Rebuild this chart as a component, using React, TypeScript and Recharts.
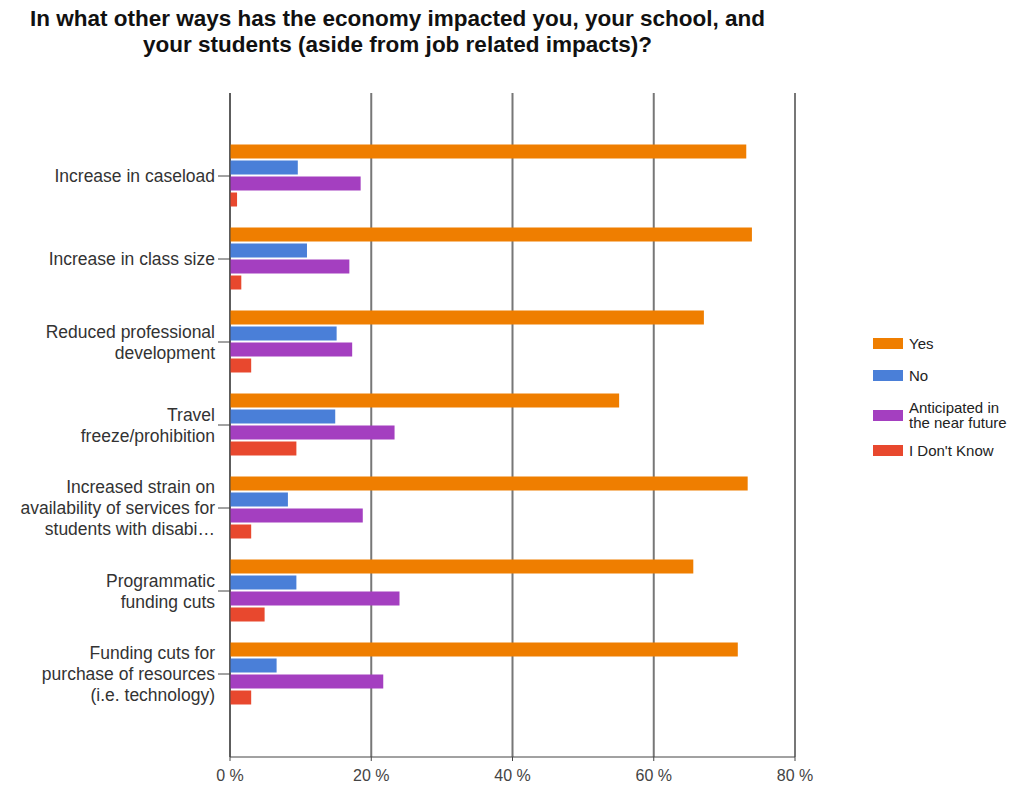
import { BarChart, Bar, XAxis, YAxis, CartesianGrid, Legend } from "recharts";

const categories = [
  "Increase in caseload",
  "Increase in class size",
  "Reduced professional\ndevelopment",
  "Travel\nfreeze/prohibition",
  "Increased strain on\navailability of services for\nstudents with disabi…",
  "Programmatic\nfunding cuts",
  "Funding cuts for\npurchase of resources\n(i.e. technology)",
];

const yes = [73.1, 73.9, 67.1, 55.1, 73.3, 65.6, 71.9];
const no = [9.6, 10.9, 15.1, 14.9, 8.2, 9.4, 6.6];
const anticipated = [18.5, 16.9, 17.3, 23.3, 18.8, 24.0, 21.7];
const dontKnow = [1.0, 1.6, 3.0, 9.4, 3.0, 4.9, 3.0];

const xTicks = [0, 20, 40, 60, 80];

const series = [
  { key: "yes", name: "Yes", color: "#EF7E00" },
  { key: "no", name: "No", color: "#4A7FD8" },
  { key: "anticipated", name: "Anticipated in\nthe near future", color: "#A43FC0" },
  { key: "dontKnow", name: "I Don't Know", color: "#E8482E" },
];

const data = categories.map((category, i) => ({
  category,
  yes: yes[i],
  no: no[i],
  anticipated: anticipated[i],
  dontKnow: dontKnow[i],
}));

const FONT = "'Liberation Sans', Arial, sans-serif";

function CategoryTick(props: any) {
  const { x, y, payload } = props;
  const lines = String(payload.value).split("\n");
  const lh = 21;
  const start = y - ((lines.length - 1) * lh) / 2;
  return (
    <text x={x} y={start} textAnchor="end" fontSize={17.5} fill="#333" fontFamily={FONT}>
      {lines.map((l, i) => (
        <tspan key={i} x={x} y={start + i * lh} dy="0.35em">
          {l}
        </tspan>
      ))}
    </text>
  );
}

function LegendBox() {
  const ys = [0, 32, 64, 107];
  return (
    <div style={{ position: "relative", width: 140, height: 130, fontFamily: FONT, fontSize: 15, color: "#222", textAlign: "left" }}>
      {series.map((s, i) => {
        const lines = s.name.split("\n");
        return (
          <div key={s.key} style={{ position: "absolute", left: 0, top: ys[i], display: "flex", alignItems: "center" }}>
            <div style={{ width: 30, height: 11, background: s.color, marginRight: 6 }} />
            <div style={{ lineHeight: "15px", whiteSpace: "nowrap" }}>
              {lines.map((l, j) => (
                <div key={j}>{l}</div>
              ))}
            </div>
          </div>
        );
      })}
    </div>
  );
}

export default function App() {
  return (
    <div style={{ position: "absolute", left: 0, top: 0, width: 1010, height: 789, background: "#fff" }}>
      <div
        style={{
          position: "absolute",
          left: 0,
          top: 6,
          width: 795,
          textAlign: "center",
          fontFamily: FONT,
          fontWeight: "bold",
          fontSize: 22.5,
          lineHeight: "26px",
          color: "#111",
          zIndex: 2,
        }}
      >
        In what other ways has the economy impacted you, your school, and
        <br />
        your students (aside from job related impacts)?
      </div>
      <BarChart
        width={1010}
        height={789}
        data={data}
        layout="vertical"
        margin={{ top: 93, right: 215, bottom: 0, left: 0 }}
        barCategoryGap={10}
        barGap={2}
      >
        <CartesianGrid horizontal={false} stroke="#777" strokeWidth={2} />
        <XAxis
          type="number"
          domain={[0, 80]}
          ticks={xTicks}
          tickFormatter={(v: number) => `${v} %`}
          height={32}
          tickSize={4}
          tickMargin={9}
          stroke="#444"
          tick={{ fontSize: 16, fill: "#444", fontFamily: FONT }}
        />
        <YAxis
          type="category"
          dataKey="category"
          width={230}
          padding={{ top: 41.5, bottom: 41.5 }}
          tickSize={12}
          tickMargin={3}
          stroke="#444"
          interval={0}
          tick={<CategoryTick />}
        />
        <Legend
          layout="horizontal"
          verticalAlign="middle"
          align="center"
          wrapperStyle={{ left: 873, top: 336, width: 140 }}
          content={() => <LegendBox />}
        />
        {series.map((s) => (
          <Bar key={s.key} dataKey={s.key} name={s.name} fill={s.color} isAnimationActive={false} />
        ))}
      </BarChart>
    </div>
  );
}
